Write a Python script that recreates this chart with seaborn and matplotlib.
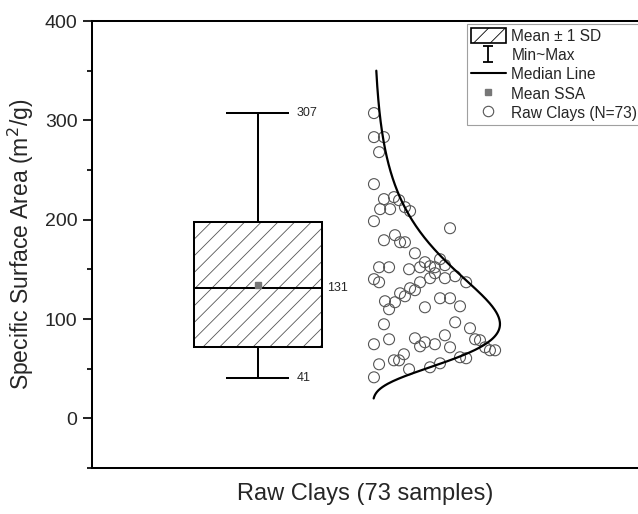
import numpy as np
import pandas as pd
import matplotlib
matplotlib.use("Agg")
import matplotlib.pyplot as plt
from matplotlib.lines import Line2D
from matplotlib.patches import Patch
from matplotlib.path import Path
from matplotlib.ticker import MultipleLocator
import seaborn as sns

# Specific surface area of the raw clays (m2/g)
ssa_values = [
    307.3, 283.1, 283.1, 268.0, 235.8, 220.7, 222.7, 219.6, 210.6, 210.6,
    212.6, 208.6, 198.5, 191.4, 179.3, 184.4, 177.3, 177.3, 166.2, 152.1,
    152.1, 150.1, 152.1, 157.2, 153.1, 152.1, 160.2, 154.2, 140.1, 137.0,
    137.0, 141.1, 146.1, 141.1, 143.1, 137.0, 131.0, 129.0, 125.9, 122.9,
    120.9, 120.9, 117.9, 116.9, 109.8, 111.8, 112.8, 94.7, 96.7, 90.7,
    74.6, 79.6, 80.6, 72.5, 76.6, 74.6, 83.6, 71.5, 79.6, 78.6,
    71.5, 68.5, 68.5, 58.4, 58.4, 64.5, 54.4, 49.4, 51.4, 55.4,
    61.5, 60.5, 41.3,
]
# horizontal placement of each sample in the strip beside the box
strip_x = [
    0.453, 0.453, 0.492, 0.473, 0.453, 0.492, 0.531, 0.551, 0.477, 0.516,
    0.574, 0.594, 0.453, 0.750, 0.492, 0.535, 0.555, 0.574, 0.613, 0.473,
    0.512, 0.590, 0.633, 0.652, 0.672, 0.691, 0.711, 0.730, 0.453, 0.473,
    0.633, 0.672, 0.691, 0.730, 0.770, 0.813, 0.594, 0.613, 0.555, 0.574,
    0.711, 0.750, 0.496, 0.535, 0.512, 0.652, 0.789, 0.492, 0.770, 0.828,
    0.453, 0.512, 0.613, 0.633, 0.652, 0.691, 0.730, 0.750, 0.848, 0.867,
    0.887, 0.906, 0.926, 0.531, 0.551, 0.570, 0.473, 0.590, 0.672, 0.711,
    0.789, 0.813, 0.453,
]

ssa_mean = 134.5
ssa_sd = 63.0
ssa_median = 131
ssa_min = 41
ssa_max = 307

df = pd.DataFrame({"x": strip_x, "ssa": ssa_values})

sns.set_theme(style="ticks")
plt.rcParams["font.family"] = ["Liberation Sans", "DejaVu Sans"]
plt.rcParams["hatch.linewidth"] = 0.6

fig = plt.figure(figsize=(6.38, 5.14), dpi=100)
ax = fig.add_axes([0.1442, 0.0895, 0.8558, 0.8696])

box_w = 0.5
cap_w = 0.246
lw = 1.45

# whiskers and caps (min ~ max)
ax.vlines(0, ssa_mean + ssa_sd, ssa_max, color="black", lw=lw, zorder=2)
ax.vlines(0, ssa_min, ssa_mean - ssa_sd, color="black", lw=lw, zorder=2)
ax.hlines([ssa_min, ssa_max], -cap_w / 2, cap_w / 2, color="black", lw=lw, zorder=2)

# mean +/- 1 SD box: hatch layer then outline
ax.bar(0, 2 * ssa_sd, bottom=ssa_mean - ssa_sd, width=box_w, facecolor="white",
       edgecolor="#555555", linewidth=0, hatch="//", zorder=2)
ax.bar(0, 2 * ssa_sd, bottom=ssa_mean - ssa_sd, width=box_w, facecolor="none",
       edgecolor="black", linewidth=lw, zorder=3)
ax.hlines(ssa_median, -box_w / 2, box_w / 2, color="black", lw=lw, zorder=4)
ax.plot([0], [ssa_mean], marker="s", ms=5, color="#777777", ls="none", zorder=5)

ax.text(0.152, ssa_max, f"{ssa_max}", va="center", ha="left", fontsize=9)
ax.text(0.152, ssa_min, f"{ssa_min}", va="center", ha="left", fontsize=9)
ax.text(0.270, ssa_median, f"{ssa_median}", va="center", ha="left", fontsize=9)

# raw samples
sns.scatterplot(data=df, x="x", y="ssa", ax=ax, marker="o", s=62,
                facecolor="none", edgecolor="#555555", linewidth=0.8,
                legend=False, zorder=3)

# log-normal distribution fitted to the samples
logs = np.log(np.asarray(ssa_values))
mu, sigma = logs.mean(), logs.std()
yy = np.linspace(20, 350, 400)
pdf = np.exp(-(np.log(yy) - mu) ** 2 / (2 * sigma ** 2)) / yy
curve_base, curve_w = 0.449, 0.496
ax.plot(curve_base + curve_w * pdf / pdf.max(), yy, color="black", lw=1.6, zorder=4)

ax.set_xlim(-0.648, 1.484)
ax.set_ylim(-50, 400)
ax.set_xticks([])
ax.yaxis.set_major_locator(MultipleLocator(100))
ax.yaxis.set_minor_locator(MultipleLocator(50))
ax.tick_params(axis="y", which="major", length=6.5, width=lw, labelsize=14, pad=4, direction="out")
ax.tick_params(axis="y", which="minor", length=3.6, width=lw, direction="out")
for side in ["left", "top", "bottom"]:
    ax.spines[side].set_linewidth(lw)
    ax.spines[side].set_color("black")
ax.spines["right"].set_visible(False)
ax.set_ylabel("Specific Surface Area (m$^2$/g)", fontsize=16.5, labelpad=6)
ax.set_xlabel("Raw Clays (73 samples)", fontsize=17, labelpad=11)

# legend
i_marker = Path([(0, -1), (0, 1), (-0.6, 1), (0.6, 1), (-0.6, -1), (0.6, -1)],
                [Path.MOVETO, Path.LINETO, Path.MOVETO, Path.LINETO, Path.MOVETO, Path.LINETO])
handles = [
    Patch(facecolor="white", edgecolor="black", hatch="//", linewidth=1.2),
    Line2D([], [], ls="none", marker=i_marker, ms=11.5, mfc="none", mec="black", mew=1.3),
    Line2D([], [], color="black", lw=1.5),
    Line2D([], [], ls="none", marker="s", ms=4, color="#777777"),
    Line2D([], [], ls="none", marker="o", ms=7.5, mfc="none", mec="#555555", mew=0.8),
]
labels = ["Mean \u00b1 1 SD", "Min~Max", "Median Line", "Mean SSA", "Raw Clays (N=73)"]
leg = fig.legend(handles, labels, loc="upper left", bbox_to_anchor=(467 / 638, 1 - 24 / 514),
                 fontsize=11.2, frameon=True, fancybox=False, edgecolor="#888888",
                 labelspacing=0.22, handlelength=2.2, handleheight=1.1, handletextpad=0.38,
                 borderpad=0.28, borderaxespad=0.0)
leg.get_frame().set_linewidth(0.8)

fig.savefig("out.png", dpi=100)
